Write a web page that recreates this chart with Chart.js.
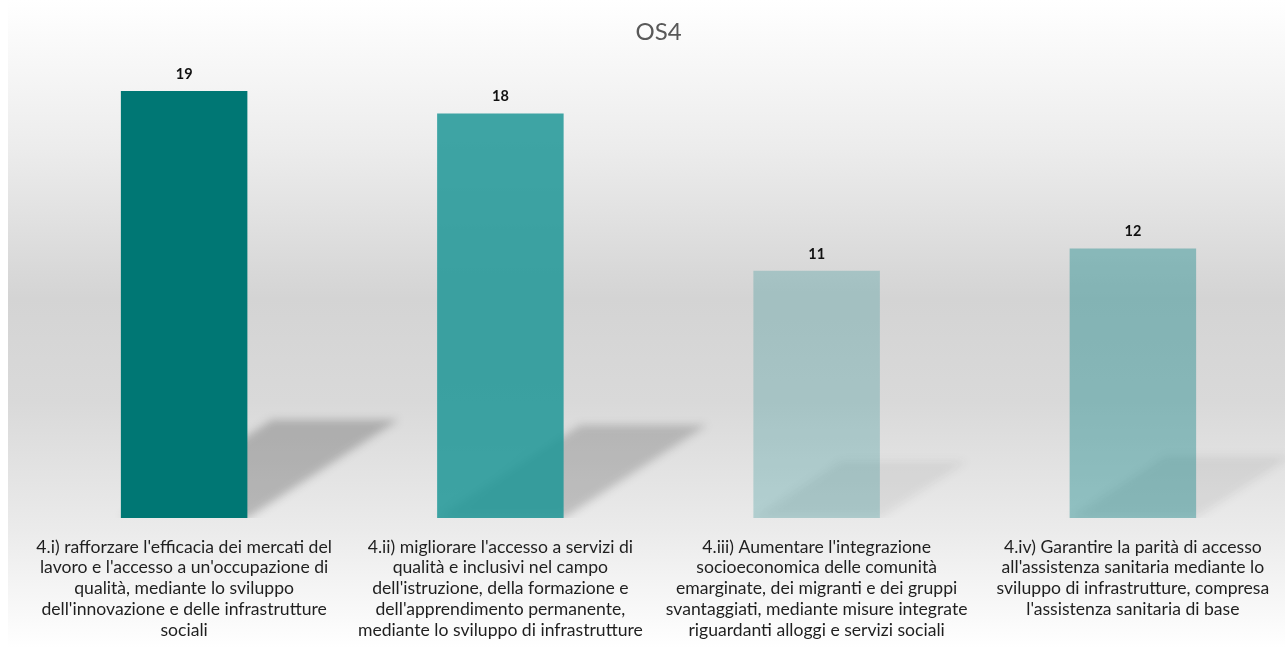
<!DOCTYPE html>
<html lang="it">
<head>
<meta charset="utf-8">
<title>OS4</title>
<script src="https://cdn.jsdelivr.net/npm/chart.js@4.4.1/dist/chart.umd.min.js"></script>
<style>
  html, body { margin: 0; padding: 0; background: #fff; overflow: hidden; }
  #os4Chart { display: block; }
</style>
</head>
<body>
<canvas id="os4Chart" width="1317" height="648"></canvas>
<script>
// Obiettivi specifici OS4 (etichette già spezzate su più righe)
const categorie = [
    ["4.i) rafforzare l'efficacia dei mercati del", "lavoro e l'accesso a un'occupazione di", "qualità, mediante lo sviluppo", "dell'innovazione e delle infrastrutture", "sociali"],
    ["4.ii) migliorare l'accesso a servizi di", "qualità e inclusivi nel campo", "dell'istruzione, della formazione e", "dell'apprendimento permanente,", "mediante lo sviluppo di infrastrutture"],
    ["4.iii) Aumentare l'integrazione", "socioeconomica delle comunità", "emarginate, dei migranti e dei gruppi", "svantaggiati, mediante misure integrate", "riguardanti alloggi e servizi sociali"],
    ["4.iv) Garantire la parità di accesso", "all'assistenza sanitaria mediante lo", "sviluppo di infrastrutture, compresa", "l'assistenza sanitaria di base"]
];
const valori = [19, 18, 11, 12];
const scalaMax = 20;

// colori delle barre e intensità dell'ombra proiettata
const coloriBarre = ['rgb(0,119,116)', 'rgba(30,150,150,0.85)', 'rgba(0,125,128,0.23)', 'rgba(0,125,128,0.38)'];
const ombraAlpha = [0.26, 0.22, 0.07, 0.08];

const FONT = "Lato, 'Open Sans', sans-serif";

// sfondo grigio sfumato dietro tutto il grafico
const sfondo = {
    id: 'sfondo',
    beforeDraw(chart) {
        const ctx = chart.ctx;
        const w = chart.width, h = chart.height;
        const g = ctx.createLinearGradient(0, 0, 0, h);
        g.addColorStop(0, '#ffffff');
        g.addColorStop(0.05, '#fbfbfb');
        g.addColorStop(0.23, '#ececec');
        g.addColorStop(0.46, '#d4d4d4');
        g.addColorStop(0.62, '#d9d9d9');
        g.addColorStop(0.82, '#ebebeb');
        g.addColorStop(0.93, '#f7f7f7');
        g.addColorStop(1, '#ffffff');
        ctx.save();
        ctx.fillStyle = '#ffffff';
        ctx.fillRect(0, 0, w, h);
        ctx.fillStyle = g;
        ctx.fillRect(8, 0, w - 8, h);
        ctx.restore();
    }
};

// ombra inclinata alla base di ogni barra
const ombre = {
    id: 'ombre',
    beforeDatasetsDraw(chart) {
        const ctx = chart.ctx;
        const area = chart.chartArea;
        chart.getDatasetMeta(0).data.forEach((bar, i) => {
            const p = bar.getProps(['x', 'y', 'base', 'width'], true);
            const left = p.x - p.width / 2, right = p.x + p.width / 2;
            const dy = (p.base - p.y) * 0.23, dx = dy * 1.54;
            ctx.save();
            ctx.beginPath();
            ctx.rect(area.left, area.top, area.right - area.left, p.base - area.top);
            ctx.clip();
            ctx.filter = 'blur(4px)';
            ctx.fillStyle = 'rgba(40,40,40,' + ombraAlpha[i] + ')';
            ctx.beginPath();
            ctx.moveTo(left, p.base);
            ctx.lineTo(right, p.base);
            ctx.lineTo(right + dx, p.base - dy);
            ctx.lineTo(left + dx, p.base - dy);
            ctx.closePath();
            ctx.fill();
            ctx.restore();
        });
    }
};

// valore sopra ogni barra
const etichetteValori = {
    id: 'etichetteValori',
    afterDatasetsDraw(chart) {
        const ctx = chart.ctx;
        ctx.save();
        ctx.font = 'bold 14.5px ' + FONT;
        ctx.fillStyle = '#111111';
        ctx.textAlign = 'center';
        ctx.textBaseline = 'middle';
        chart.getDatasetMeta(0).data.forEach((bar, i) => {
            ctx.fillText(valori[i], bar.x, bar.y - 17);
        });
        ctx.restore();
    }
};

const ctx = document.getElementById('os4Chart').getContext('2d');
const os4Chart = new Chart(ctx, {
    type: 'bar',
    data: {
        labels: categorie,
        datasets: [{
            data: valori,
            backgroundColor: coloriBarre,
            borderWidth: 0,
            categoryPercentage: 1,
            barPercentage: 0.4
        }]
    },
    options: {
        responsive: false,
        devicePixelRatio: 1,
        animation: false,
        layout: { padding: { left: 26, right: 26, top: 0, bottom: 7.6 } },
        plugins: {
            legend: { display: false },
            tooltip: { enabled: false },
            title: {
                display: true,
                text: 'OS4',
                color: '#595959',
                font: { family: FONT, size: 24, weight: 'normal' },
                padding: { top: 17.6, bottom: 22.2 }
            }
        },
        scales: {
            x: {
                grid: { display: false, drawTicks: false },
                border: { display: false },
                ticks: {
                    color: '#1f1f1f',
                    font: { family: FONT, size: 17.6, lineHeight: 20.75 / 17.6 },
                    padding: 18.6,
                    autoSkip: false,
                    maxRotation: 0
                },
                // spazio sotto l'asse: padding + 5 righe di testo
                afterFit(scale) {
                    scale.height = 18.6 + 5 * 20.75;
                }
            },
            y: { display: false, min: 0, max: scalaMax }
        }
    },
    plugins: [sfondo, ombre, etichetteValori]
});
</script>
</body>
</html>
